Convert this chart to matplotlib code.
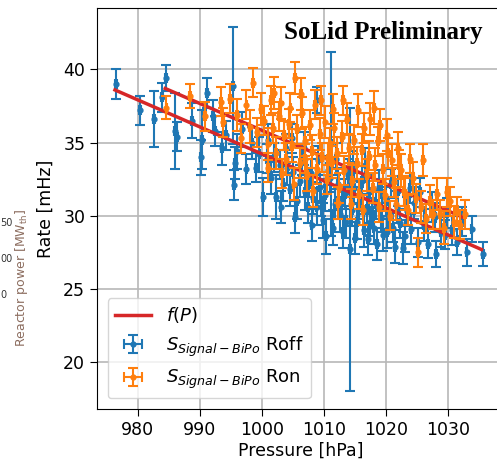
import numpy as np
import matplotlib
matplotlib.use("Agg")
import matplotlib.pyplot as plt

# reactor off data: pressure [hPa], rate [mHz], rate error
p_off = [976.5, 980.4, 982.6, 983.9, 984.5, 986.0, 986.3, 988.7, 990.2, 990.3,
         991.1, 992.1, 992.4, 993.5, 994.2, 995.3, 995.6, 995.5, 995.9, 996.8,
         997.5, 998.4, 999.1, 999.6, 1000.2, 1000.8, 1001.4, 1002.3, 1002.9, 1003.4,
         1003.9, 1004.5, 1005.0, 1005.6, 1006.1, 1006.5, 1007.0, 1007.4, 1007.9, 1008.3,
         1008.8, 1008.8, 1009.3, 1009.9, 1010.2, 1010.6, 1011.2, 1011.5, 1011.8, 1012.2,
         1012.6, 1013.1, 1013.4, 1013.8, 1014.2, 1014.5, 1014.9, 1015.3, 1015.7, 1016.1,
         1016.5, 1016.9, 1017.3, 1017.5, 1018.0, 1018.4, 1018.8, 1019.2, 1019.6, 1020.0,
         1020.5, 1021.2, 1021.8, 1022.3, 1022.8, 1023.4, 1024.1, 1024.6, 1025.2, 1025.5,
         1026.2, 1026.8, 1027.4, 1027.9, 1028.1, 1028.8, 1029.5, 1029.8, 1030.6, 1031.5,
         1032.2, 1033.0, 1033.8, 1035.6,
         1001.0, 1002.0, 1003.0, 1004.0, 1004.8, 1005.3, 1006.8, 1007.6, 1008.0, 1009.0,
         1009.6, 1010.4, 1011.0, 1012.0, 1012.9, 1013.6, 1014.7, 1015.0, 1015.9, 1016.7,
         1017.1, 1017.8, 1018.6, 1019.4, 1020.2, 1020.8, 1021.5, 1022.0, 1023.0, 1023.8]
r_off = [39.0, 37.2, 36.6, 38.1, 39.4, 35.8, 35.4, 36.5, 34.0, 35.2,
         38.4, 36.8, 35.8, 34.6, 35.5, 38.9, 33.6, 32.1, 34.4, 35.9,
         33.2, 35.0, 33.3, 34.2, 31.3, 33.9, 32.6, 31.3, 33.5, 32.2,
         34.6, 31.8, 33.0, 31.0, 32.4, 33.8, 31.6, 30.6, 32.9, 31.2,
         37.9, 30.6, 32.0, 29.7, 31.4, 33.1, 34.9, 29.2, 30.8, 32.2,
         30.1, 28.9, 31.5, 32.8, 27.7, 30.4, 31.9, 29.6, 30.9, 32.4,
         29.0, 30.5, 31.6, 29.6, 29.2, 30.8, 32.0, 29.9, 28.7, 31.0,
         30.2, 29.2, 30.6, 29.5, 27.8, 30.3, 29.1, 30.9, 28.2, 31.6,
         29.4, 28.1, 30.6, 29.9, 27.4, 28.9, 28.7, 30.2, 29.0, 28.2,
         29.6, 27.5, 29.1, 27.4,
         35.2, 34.0, 30.6, 33.3, 35.3, 29.9, 34.6, 32.3, 29.4, 33.8,
         31.0, 28.6, 32.6, 33.9, 31.0, 29.6, 33.4, 28.5, 31.3, 33.5,
         28.4, 30.2, 28.1, 31.5, 28.9, 32.2, 27.9, 31.7, 28.6, 31.9]
e_off = [1.0, 1.0, 1.9, 1.0, 0.9, 2.6, 1.0, 1.2, 1.2, 2.0,
         1.0, 1.1, 1.0, 1.1, 1.0, 4.0, 1.1, 1.0, 1.2, 1.2,
         1.0, 1.1, 1.0, 1.2, 1.3, 1.0, 1.1, 1.5, 1.0, 1.2,
         1.0, 1.1, 1.0, 1.2, 1.1, 1.0, 1.2, 1.1, 1.0, 1.1,
         0.9, 1.2, 1.0, 1.2, 1.1, 1.0, 6.3, 1.2, 1.0, 1.1,
         1.2, 1.1, 1.0, 1.1, 9.7, 1.1, 1.0, 1.2, 1.1, 1.0,
         1.1, 1.0, 1.2, 1.0, 1.1, 1.0, 1.1, 1.0, 1.1, 1.0,
         1.1, 1.0, 1.1, 1.0, 1.1, 1.0, 1.0, 1.1, 1.0, 1.0,
         1.1, 1.0, 1.0, 1.0, 0.9, 1.0, 1.0, 1.0, 1.0, 0.9,
         1.0, 0.9, 0.9, 0.8,
         1.1, 1.0, 1.1, 1.2, 1.0, 1.1, 1.1, 1.0, 1.1, 1.0,
         1.0, 1.2, 1.0, 1.1, 1.0, 1.1, 1.0, 1.1, 1.0, 1.1,
         1.1, 1.0, 1.1, 1.0, 1.1, 1.0, 1.1, 1.0, 1.1, 1.0]

# reactor on data
p_on = [984.6, 988.4, 990.8, 993.4, 993.7, 994.8, 996.0, 996.7, 997.5, 998.0,
        998.5, 999.2, 999.8, 1000.3, 1000.9, 1001.4, 1001.8, 1002.3, 1002.7, 1003.0,
        1003.5, 1003.9, 1004.3, 1004.8, 1005.4, 1005.7, 1006.1, 1006.5, 1006.9, 1007.3,
        1007.7, 1008.1, 1008.5, 1008.9, 1009.3, 1009.7, 1010.1, 1010.5, 1010.9, 1011.3,
        1011.7, 1012.1, 1012.5, 1012.9, 1013.3, 1013.7, 1014.1, 1014.5, 1014.9, 1015.3,
        1015.7, 1016.1, 1016.5, 1016.9, 1017.3, 1017.5, 1017.9, 1018.3, 1018.7, 1019.0,
        1019.5, 1019.9, 1020.3, 1020.9, 1021.3, 1021.7, 1022.1, 1022.5, 1022.9, 1023.1,
        1023.6, 1024.3, 1024.8, 1025.2, 1025.6, 1026.0, 1026.5, 1027.1, 1027.6, 1028.2,
        1028.7, 1029.3, 1029.9, 1030.3, 1030.9, 1031.4, 1031.9, 1032.7,
        1001.0, 1002.0, 1003.2, 1004.6, 1005.1, 1006.3, 1007.0, 1008.3, 1009.5, 1010.7,
        1011.5, 1012.3, 1013.1, 1014.3, 1015.5, 1016.3, 1018.1, 1018.9, 1020.1, 1020.7,
        1021.9, 1023.9]
r_on = [37.4, 38.2, 36.8, 37.8, 36.4, 38.0, 36.9, 35.3, 37.6, 36.1,
        39.1, 35.7, 37.3, 36.5, 34.9, 37.9, 36.0, 34.3, 36.8, 37.7,
        35.5, 33.9, 36.3, 34.8, 39.4, 35.9, 33.6, 37.0, 35.1, 32.8,
        36.2, 34.4, 37.6, 33.2, 35.6, 34.0, 36.4, 32.5, 35.0, 33.7,
        36.0, 34.3, 31.9, 35.4, 33.1, 36.6, 34.6, 32.4, 35.2, 33.6,
        31.5, 34.5, 36.0, 32.8, 34.1, 36.6, 31.9, 33.5, 35.1, 36.2,
        33.2, 31.4, 34.3, 33.8, 32.3, 30.8, 33.5, 33.1, 31.7, 31.5,
        30.4, 32.6, 31.2, 27.5, 30.6, 33.8, 29.8, 31.0, 30.1, 31.5,
        30.1, 29.2, 31.6, 31.0, 29.6, 30.3, 29.4, 30.1,
        33.3, 38.4, 32.9, 37.4, 32.2, 38.3, 33.9, 31.7, 37.9, 33.9,
        37.3, 30.9, 37.9, 30.8, 37.2, 30.4, 37.4, 30.6, 35.5, 30.0,
        34.6, 33.9]
e_on = [0.8, 0.8, 1.0, 1.0, 1.0, 1.0, 1.1, 1.0, 1.0, 1.1,
        1.0, 1.0, 1.1, 1.0, 1.1, 1.0, 1.0, 1.1, 1.0, 1.1,
        1.0, 1.1, 1.0, 1.1, 1.1, 1.0, 1.0, 1.1, 1.0, 1.1,
        1.0, 1.1, 1.0, 1.0, 1.1, 1.0, 1.1, 1.0, 1.0, 1.1,
        1.0, 1.1, 1.0, 1.1, 1.0, 1.1, 1.0, 1.1, 1.0, 1.1,
        1.0, 1.1, 1.0, 1.1, 1.0, 1.1, 1.0, 1.1, 1.0, 1.1,
        1.0, 1.1, 1.0, 1.1, 1.0, 1.1, 1.0, 1.1, 1.0, 1.1,
        1.0, 1.1, 1.0, 1.0, 1.1, 1.1, 1.0, 1.1, 1.0, 1.1,
        1.0, 1.1, 1.0, 1.0, 1.1, 1.0, 1.0, 1.0,
        1.0, 1.1, 1.0, 1.0, 1.1, 1.1, 1.0, 1.1, 1.0, 1.1,
        1.0, 1.1, 1.0, 1.0, 1.1, 1.0, 1.1, 1.0, 1.1, 1.0,
        1.1, 1.0]

# fitted lines f(P), end points
fit_p_off = [976.3, 1035.4]
fit_r_off = [38.6, 27.7]
fit_p_on = [984.4, 1032.4]
fit_r_on = [38.7, 29.9]

W, H = 497, 462
fig = plt.figure(figsize=(W / 100, H / 100), dpi=100)
ax = fig.add_axes([97 / W, 1 - 409 / H, 408 / W, 401 / H])

blue = '#1f77b4'
orange = '#ff7f0e'
red = '#d62728'

ax.errorbar(p_off, r_off, yerr=e_off, xerr=0.15, fmt='o', ms=3.5, color=blue,
            ecolor=blue, elinewidth=1.5, capsize=3.5, capthick=1.5,
            label=r'$S_{Signal-BiPo}$ Roff', zorder=2)
ax.plot(fit_p_off, fit_r_off, color=red, lw=2.5, label=r'$f(P)$', zorder=3)
ax.plot(fit_p_on, fit_r_on, color=red, lw=2.5, zorder=3)
ax.errorbar(p_on, r_on, yerr=e_on, xerr=0.15, fmt='o', ms=3.5, color=orange,
            ecolor=orange, elinewidth=1.5, capsize=3.5, capthick=1.5,
            label=r'$S_{Signal-BiPo}$ Ron', zorder=4)

ax.set_xlim(973.4, 1039.2)
ax.set_ylim(16.8, 44.2)
ax.set_xticks([980, 990, 1000, 1010, 1020, 1030])
ax.set_yticks([20, 25, 30, 35, 40])
ax.grid(True, color='#b8b8b8', lw=1.2)
ax.set_axisbelow(True)
ax.tick_params(labelsize=12.5, length=5)
ax.set_xlabel('Pressure [hPa]', fontsize=12.5, labelpad=2)
ax.set_ylabel('Rate [mHz]', fontsize=12.5, labelpad=6)

# legend: line first, then the two series
h, l = ax.get_legend_handles_labels()
order = [l.index(r'$f(P)$'), l.index(r'$S_{Signal-BiPo}$ Roff'), l.index(r'$S_{Signal-BiPo}$ Ron')]
ax.legend([h[i] for i in order], [l[i] for i in order], loc='lower left',
          fontsize=13, borderaxespad=0.6, framealpha=0.8)

fig.text(483 / W, 1 - 32 / H, 'SoLid Preliminary', ha='right', va='center',
         fontsize=18, fontweight='bold', family='Liberation Serif')

# remains of the neighbouring reactor power axis, cut off at the left
fig.text(22 / W, 1 - 278 / H, r'Reactor power [MW$_{\rm th}$]', rotation=90,
         ha='center', va='center', fontsize=9, color='#8c6d5f')
fig.text(0.5 / W, 1 - 223 / H, '50', ha='left', va='center', fontsize=7, color='#333333')
fig.text(0.5 / W, 1 - 259 / H, '00', ha='left', va='center', fontsize=7, color='#333333')
fig.text(0.5 / W, 1 - 295 / H, '0', ha='left', va='center', fontsize=7, color='#333333')

fig.savefig('out.png', dpi=100)
